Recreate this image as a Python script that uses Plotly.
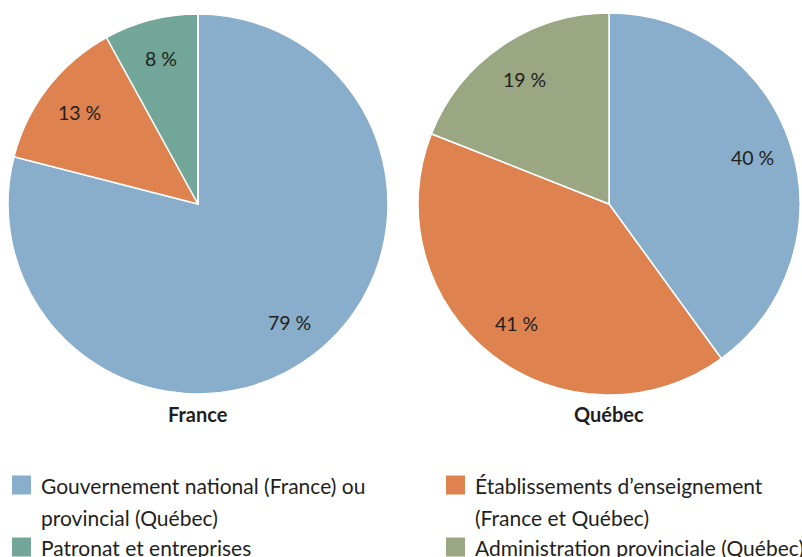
import math
import plotly.graph_objects as go

categories = ["Gouvernement national (France) ou<br>provincial (Québec)",
              "Établissements d’enseignement<br>(France et Québec)",
              "Patronat et entreprises",
              "Administration provinciale (Québec)"]
colors = ["#88AECB", "#DE8250", "#71A698", "#9BA782"]

france_values = [79, 13, 8, 0]
quebec_values = [40, 41, 0, 19]
pie_titles = ["France", "Québec"]

W, H = 802, 557
FONT = "Lato"
TXT = "#231F20"


def px(x):
    return x / W


def py(y):
    return 1 - y / H


# pie geometry (window pixels): centre x, centre y, radius
pies = [(france_values, 198, 204, 190), (quebec_values, 609, 204, 191)]

fig = go.Figure()
for vals, cx, cy, r in pies:
    d = dict(x=[px(cx - r), px(cx + r)], y=[py(cy + r), py(cy - r)])
    fig.add_trace(go.Pie(
        labels=categories, values=vals, domain=d, sort=False,
        direction="clockwise", rotation=0,
        marker=dict(colors=colors, line=dict(color="white", width=1.5)),
        textinfo="none", hoverinfo="label+percent", showlegend=False,
    ))
    # percentage labels placed along each slice's mid-angle
    total = sum(vals)
    cum = 0
    for v in vals:
        if v <= 0:
            continue
        mid = (cum + v / 2) / total * 2 * math.pi
        cum += v
        lx = cx + 0.79 * r * math.sin(mid)
        ly = cy - 0.79 * r * math.cos(mid)
        fig.add_annotation(text=f"{v} %", x=px(lx), y=py(ly), xref="paper", yref="paper",
                           xanchor="center", yanchor="middle",
                           showarrow=False, font=dict(family=FONT, size=19.5, color=TXT))

for t, (_, cx, cy, r) in zip(pie_titles, pies):
    fig.add_annotation(text=f"<b>{t}</b>", x=px(cx), y=py(414), xref="paper", yref="paper",
                       xanchor="center", yanchor="middle",
                       showarrow=False, font=dict(family=FONT, size=20, color=TXT))

# legend drawn manually: two columns, row-major
legend_pos = [(12, 485), (446, 485), (12, 547), (446, 547)]
for cat, col, (lx, ly) in zip(categories, colors, legend_pos):
    fig.add_shape(type="rect", xref="paper", yref="paper",
                  x0=px(lx), x1=px(lx + 19), y0=py(ly + 9.5), y1=py(ly - 9.5),
                  fillcolor=col, line=dict(width=0))
    for i, line in enumerate(cat.split("<br>")):
        fig.add_annotation(text=line, x=px(lx + 27), y=py(ly + 32 * i),
                           xref="paper", yref="paper", xanchor="left", yanchor="middle",
                           showarrow=False, font=dict(family=FONT, size=21, color=TXT))

fig.update_layout(
    width=W, height=H, margin=dict(l=0, r=0, t=0, b=0),
    paper_bgcolor="white", plot_bgcolor="white", showlegend=False,
)
fig.write_html("out.html", config={"displayModeBar": False},
               post_script="document.body.style.margin='0px';")
